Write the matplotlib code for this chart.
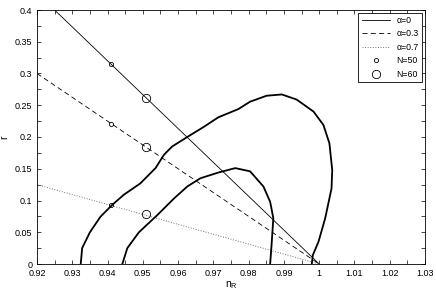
import matplotlib
matplotlib.use("Agg")
import matplotlib.pyplot as plt
from matplotlib.ticker import MultipleLocator

plt.rcParams["font.family"] = ["Liberation Sans", "DejaVu Sans"]
plt.rcParams["mathtext.default"] = "regular"

# straight lines r(n_R) for each alpha (end points)
alpha0_n = [0.925, 1.0]
alpha0_r = [0.4, 0.0]
alpha03_n = [0.92, 1.0]
alpha03_r = [0.30, 0.0]
alpha07_n = [0.92, 1.0]
alpha07_r = [0.125, 0.0]

# markers on the lines
n50_n = [0.941, 0.941, 0.941]
n50_r = [0.315, 0.221, 0.093]
n60_n = [0.951, 0.951, 0.951]
n60_r = [0.262, 0.184, 0.078]

# outer boundary curve
outer_n = [0.9324, 0.9328, 0.935, 0.938, 0.9413, 0.9446, 0.9493, 0.9536, 0.956,
           0.9583, 0.9626, 0.9673, 0.9714, 0.9771, 0.9804, 0.9851, 0.9894, 0.9936,
           0.9984, 1.0012, 1.0029, 1.0037, 1.0035, 1.0017, 0.9998, 0.9982, 0.9979]
outer_r = [0.0, 0.025, 0.050, 0.0745, 0.093, 0.109, 0.127, 0.151, 0.172,
           0.185, 0.200, 0.216, 0.231, 0.244, 0.2556, 0.265, 0.267, 0.259,
           0.240, 0.219, 0.190, 0.148, 0.119, 0.072, 0.035, 0.014, 0.0]

# inner boundary curve
inner_n = [0.9442, 0.9456, 0.9489, 0.9541, 0.9588, 0.9626, 0.9663, 0.9714,
           0.9762, 0.9804, 0.9842, 0.9861, 0.9870, 0.9865, 0.9861]
inner_r = [0.0, 0.025, 0.050, 0.077, 0.103, 0.122, 0.135, 0.144,
           0.151, 0.146, 0.122, 0.098, 0.072, 0.030, 0.0]

fig = plt.figure(figsize=(4.36, 2.93), dpi=100)
ax = fig.add_axes([37 / 436, 1 - 264 / 293, 388 / 436, 254 / 293])

ax.plot(alpha0_n, alpha0_r, "k-", lw=0.6, label="α=0")
ax.plot(alpha03_n, alpha03_r, "k--", lw=0.6, dashes=(6, 4), label="α=0.3")
ax.plot(alpha07_n, alpha07_r, ":", color="0.45", lw=0.7, label="α=0.7")
ax.plot(n50_n, n50_r, "o", mfc="none", mec="k", ms=3, mew=0.6, label="N=50")
ax.plot(n60_n, n60_r, "o", mfc="none", mec="k", ms=6, mew=0.6, label="N=60")
ax.plot(outer_n, outer_r, "k-", lw=1.3)
ax.plot(inner_n, inner_r, "k-", lw=1.3)

ax.set_xlim(0.92, 1.03)
ax.set_ylim(0, 0.4)
ax.xaxis.set_major_locator(MultipleLocator(0.01))
ax.xaxis.set_minor_locator(MultipleLocator(0.005))
ax.yaxis.set_major_locator(MultipleLocator(0.05))
ax.yaxis.set_minor_locator(MultipleLocator(0.025))
ax.set_xticklabels([f"{v:g}" for v in ax.get_xticks()])
ax.set_yticklabels([f"{v:g}" for v in ax.get_yticks()])
ax.tick_params(which="both", direction="in", top=True, right=True, labelsize=6.5, width=0.5)
ax.tick_params(which="major", length=3)
ax.tick_params(which="minor", length=3)
for s in ax.spines.values():
    s.set_linewidth(0.6)

ax.set_xlabel("n$_R$", fontsize=7.5, labelpad=1)
ax.set_ylabel("r", fontsize=7.5, labelpad=4)

leg = ax.legend(loc="upper right", fontsize=6.3, fancybox=False, framealpha=1,
                edgecolor="k", handlelength=3.2, borderpad=0.4, labelspacing=0.5,
                borderaxespad=0.3)
leg.get_frame().set_linewidth(0.6)

fig.savefig("out.png", dpi=100)
